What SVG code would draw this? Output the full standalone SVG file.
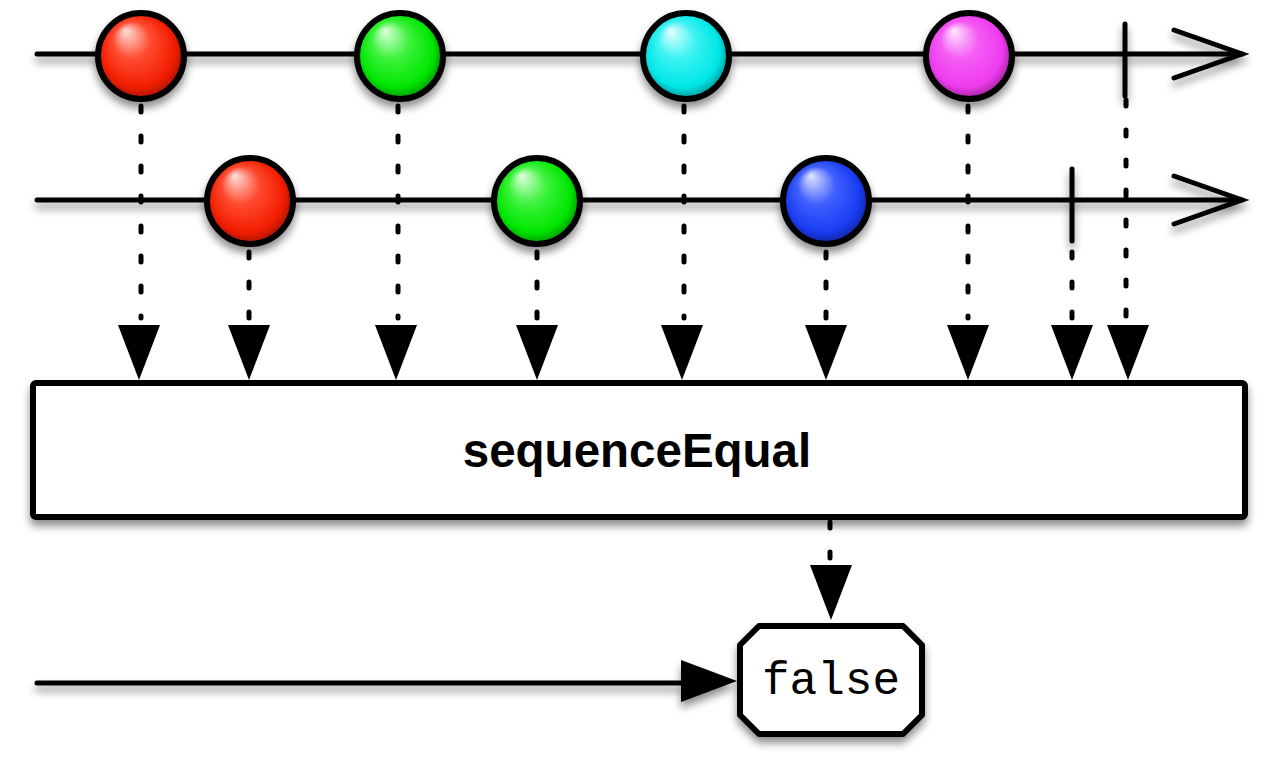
<svg xmlns="http://www.w3.org/2000/svg" width="1280" height="760" viewBox="0 0 1280 760">
<defs>
<filter id="sh" x="-20%" y="-50%" width="140%" height="200%">
<feDropShadow dx="0" dy="6" stdDeviation="4" flood-color="#000" flood-opacity="0.45"/>
</filter>
<radialGradient id="gRed" cx="0.5" cy="0.5" r="0.55" fx="0.32" fy="0.2">
<stop offset="0" stop-color="#ffe0dc"/><stop offset="0.4" stop-color="#ff4a30"/><stop offset="0.78" stop-color="#f21e00"/><stop offset="1" stop-color="#8a1000"/>
</radialGradient>
<radialGradient id="gGreen" cx="0.5" cy="0.5" r="0.55" fx="0.32" fy="0.2">
<stop offset="0" stop-color="#e0ffe0"/><stop offset="0.4" stop-color="#3cf23c"/><stop offset="0.78" stop-color="#00e600"/><stop offset="1" stop-color="#007a00"/>
</radialGradient>
<radialGradient id="gCyan" cx="0.5" cy="0.5" r="0.55" fx="0.32" fy="0.2">
<stop offset="0" stop-color="#e6ffff"/><stop offset="0.4" stop-color="#3cf2f2"/><stop offset="0.78" stop-color="#00e6e6"/><stop offset="1" stop-color="#007a7a"/>
</radialGradient>
<radialGradient id="gMag" cx="0.5" cy="0.5" r="0.55" fx="0.32" fy="0.2">
<stop offset="0" stop-color="#ffe8ff"/><stop offset="0.4" stop-color="#f45cf4"/><stop offset="0.78" stop-color="#ee3cee"/><stop offset="1" stop-color="#801a80"/>
</radialGradient>
<radialGradient id="gBlue" cx="0.5" cy="0.5" r="0.55" fx="0.32" fy="0.2">
<stop offset="0" stop-color="#e4e8ff"/><stop offset="0.4" stop-color="#4060ff"/><stop offset="0.78" stop-color="#1a3cf2"/><stop offset="1" stop-color="#0a1a80"/>
</radialGradient>
<style>
.ln{stroke:#000;stroke-width:5;fill:none;stroke-linecap:round}
.dot{stroke:#000;stroke-width:5;fill:none;stroke-linecap:round;stroke-dasharray:6 24}
.tri{fill:#000}
.mb{stroke:#000;stroke-width:6}
</style>
</defs>

<g id="connectors">
<g class="dot">
<line x1="141" y1="106" x2="141" y2="318"/>
<line x1="249" y1="252" x2="249" y2="318"/>
<line x1="398" y1="106" x2="398" y2="318"/>
<line x1="537" y1="252" x2="537" y2="318"/>
<line x1="684" y1="106" x2="684" y2="318"/>
<line x1="826" y1="252" x2="826" y2="318"/>
<line x1="968" y1="106" x2="968" y2="318"/>
<line x1="1072" y1="252" x2="1072" y2="318"/>
<line x1="1126" y1="100" x2="1126" y2="318"/>
<line x1="830" y1="522" x2="830" y2="560"/>
</g>
<g class="tri">
<polygon points="118,325 160,325 139,380"/>
<polygon points="228,325 270,325 249,380"/>
<polygon points="375,325 417,325 396,380"/>
<polygon points="516,325 558,325 537,380"/>
<polygon points="661,325 703,325 682,380"/>
<polygon points="805,325 847,325 826,380"/>
<polygon points="947,325 989,325 968,380"/>
<polygon points="1051,325 1093,325 1072,380"/>
<polygon points="1107,325 1149,325 1128,380"/>
<polygon points="810,565 852,565 831,620"/>
</g>
</g>

<g id="timeline1" filter="url(#sh)">
<line class="ln" x1="37" y1="54" x2="1242" y2="54"/>
<polyline class="ln" points="1174,30 1242,54 1174,78"/>
<line class="ln" x1="1125" y1="24" x2="1125" y2="96"/>
</g>
<g id="timeline2" filter="url(#sh)">
<line class="ln" x1="37" y1="200" x2="1242" y2="200"/>
<polyline class="ln" points="1174,176 1242,200 1174,224"/>
<line class="ln" x1="1072" y1="169" x2="1072" y2="241"/>
</g>

<g id="m1" filter="url(#sh)"><circle class="mb" cx="141" cy="56" r="43" fill="url(#gRed)"/></g>
<g id="m2" filter="url(#sh)"><circle class="mb" cx="400" cy="56" r="43" fill="url(#gGreen)"/></g>
<g id="m3" filter="url(#sh)"><circle class="mb" cx="686" cy="56" r="43" fill="url(#gCyan)"/></g>
<g id="m4" filter="url(#sh)"><circle class="mb" cx="969" cy="56" r="43" fill="url(#gMag)"/></g>
<g id="m5" filter="url(#sh)"><circle class="mb" cx="250" cy="201" r="43" fill="url(#gRed)"/></g>
<g id="m6" filter="url(#sh)"><circle class="mb" cx="537" cy="201" r="43" fill="url(#gGreen)"/></g>
<g id="m7" filter="url(#sh)"><circle class="mb" cx="826" cy="201" r="43" fill="url(#gBlue)"/></g>

<g id="operator">
<rect x="33" y="383" width="1212" height="134" rx="3" fill="#fff" stroke="#000" stroke-width="6" filter="url(#sh)"/>
<text x="637" y="467" text-anchor="middle" font-family="Liberation Sans, Arial, sans-serif" font-weight="bold" font-size="47.5">sequenceEqual</text>
</g>

<g id="output">
<g filter="url(#sh)">
<line class="ln" x1="37" y1="683" x2="690" y2="683"/>
<polygon class="tri" points="681,660 737,681 681,702"/>
</g>
<polygon points="759,626 903,626 922,645 922,715 903,734 759,734 740,715 740,645" fill="#fff" stroke="#000" stroke-width="6" stroke-linejoin="round" filter="url(#sh)"/>
<text x="831" y="694" text-anchor="middle" font-family="Liberation Mono, Courier New, monospace" font-size="46">false</text>
</g>
</svg>
